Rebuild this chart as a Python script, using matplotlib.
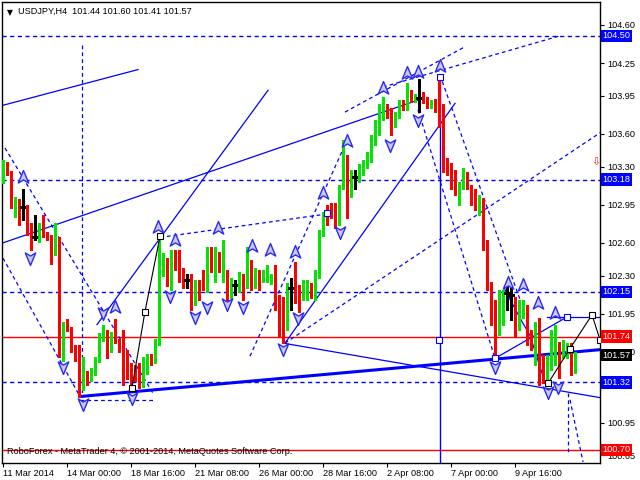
import matplotlib
matplotlib.use('Agg')
import matplotlib.pyplot as plt
from matplotlib.path import Path
import matplotlib.transforms as mtrans

plt.rcParams['font.family'] = ['Liberation Sans', 'DejaVu Sans']

# H4 candles, USDJPY 11 Mar - 10 Apr 2014
opens = [103.18, 103.32, 103.24, 102.97, 102.98, 102.93, 102.93, 102.76, 102.65, 102.63,
         102.76, 102.68, 102.65, 102.51, 102.63, 101.80, 101.86, 101.81, 101.64, 101.64,
         101.34, 101.39, 101.37, 101.41, 101.53, 101.75, 101.77, 101.62, 101.75, 101.70,
         101.75, 101.45, 101.45, 101.44, 101.43, 101.30, 101.43, 101.55, 101.52, 101.68,
         102.37, 102.42, 102.26, 102.42, 102.40, 102.31, 102.26, 102.26, 102.08, 102.21,
         102.31, 102.26, 102.47, 102.29, 102.46, 102.29, 102.29, 102.14, 102.21, 102.19,
         102.28, 102.23, 102.43, 102.24, 102.32, 102.28, 102.29, 102.26, 102.35, 102.08,
         102.06, 101.85, 102.19, 102.20, 102.16, 102.14, 102.17, 102.20, 102.17, 102.31,
         102.69, 102.90, 102.93, 102.93, 102.81, 103.13, 103.33, 103.07, 103.20, 103.21,
         103.27, 103.33, 103.38, 103.53, 103.62, 103.76, 103.82, 103.79, 103.68, 103.77,
         103.87, 103.85, 103.98, 103.92, 103.93, 103.94, 103.90, 103.87, 103.89, 103.87,
         103.82, 103.32, 103.30, 103.22, 103.02, 103.11, 103.20, 103.09, 103.04, 102.90,
         102.98, 102.58, 102.19, 101.94, 101.78, 101.89, 102.14, 102.12, 102.06, 101.86,
         101.94, 101.98, 101.75, 101.52, 101.87, 101.52, 101.37, 101.48, 101.55, 101.66,
         101.60, 101.57, 101.63, 101.44]
highs = [103.36, 103.34, 103.26, 103.02, 103.00, 103.09, 102.95, 102.78, 102.86, 102.78,
         102.86, 102.70, 102.67, 102.78, 102.65, 101.87, 101.90, 101.83, 101.66, 101.66,
         101.55, 101.42, 101.45, 101.55, 101.77, 101.85, 101.80, 101.78, 101.90, 101.72,
         101.80, 101.62, 101.50, 101.48, 101.50, 101.55, 101.58, 101.58, 101.72, 102.65,
         102.51, 102.46, 102.53, 102.53, 102.53, 102.37, 102.31, 102.31, 102.26, 102.26,
         102.35, 102.56, 102.56, 102.56, 102.52, 102.63, 102.35, 102.28, 102.26, 102.33,
         102.31, 102.56, 102.44, 102.37, 102.35, 102.35, 102.40, 102.31, 102.40, 102.12,
         102.10, 102.23, 102.28, 102.42, 102.21, 102.26, 102.26, 102.23, 102.35, 102.72,
         102.88, 102.95, 102.97, 102.97, 103.13, 103.54, 103.41, 103.27, 103.27, 103.32,
         103.36, 103.43, 103.59, 103.73, 103.87, 103.94, 103.87, 103.84, 103.80, 103.91,
         103.91, 104.07, 104.00, 103.97, 104.10, 103.98, 103.94, 103.91, 103.92, 104.14,
         103.87, 103.38, 103.33, 103.27, 103.16, 103.29, 103.25, 103.13, 103.09, 103.04,
         103.01, 102.63, 102.24, 102.08, 102.17, 102.17, 102.21, 102.19, 102.10, 102.08,
         102.08, 102.03, 101.80, 101.87, 101.91, 101.57, 101.57, 101.80, 101.85, 101.69,
         101.71, 101.68, 101.68, 101.60]
lows = [103.15, 103.22, 102.92, 102.84, 102.76, 102.81, 102.67, 102.53, 102.63, 102.61,
        102.65, 102.63, 102.41, 102.49, 101.55, 101.52, 101.79, 101.60, 101.52, 101.19,
        101.25, 101.30, 101.33, 101.39, 101.51, 101.70, 101.54, 101.60, 101.68, 101.60,
        101.30, 101.35, 101.29, 101.33, 101.27, 101.28, 101.40, 101.48, 101.50, 101.66,
        102.30, 102.20, 102.17, 102.35, 102.24, 102.19, 102.19, 101.98, 102.03, 102.08,
        102.17, 102.15, 102.33, 102.24, 102.33, 102.24, 102.08, 102.09, 102.12, 102.15,
        102.08, 102.19, 102.17, 102.19, 102.17, 102.24, 102.24, 102.22, 101.98, 101.74,
        101.68, 101.80, 101.98, 102.05, 101.97, 102.08, 102.08, 102.09, 102.08, 102.28,
        102.66, 102.76, 102.83, 102.74, 102.76, 103.09, 102.83, 103.02, 103.09, 103.16,
        103.22, 103.29, 103.34, 103.50, 103.59, 103.73, 103.75, 103.59, 103.66, 103.75,
        103.82, 103.82, 103.89, 103.89, 103.80, 103.88, 103.84, 103.84, 103.80, 103.66,
        103.25, 103.22, 103.09, 103.04, 102.95, 103.09, 103.09, 102.95, 102.90, 102.86,
        102.53, 102.17, 101.85, 101.54, 101.75, 101.85, 101.98, 101.89, 101.74, 101.80,
        101.91, 101.66, 101.62, 101.48, 101.30, 101.31, 101.30, 101.43, 101.48, 101.36,
        101.54, 101.54, 101.39, 101.41]
closes = [103.33, 103.24, 102.98, 102.99, 102.94, 102.93, 102.76, 102.65, 102.65, 102.76,
          102.69, 102.65, 102.51, 102.64, 101.82, 101.83, 101.81, 101.64, 101.62, 101.35,
          101.39, 101.33, 101.41, 101.53, 101.75, 101.77, 101.62, 101.75, 101.70, 101.69,
          101.39, 101.39, 101.39, 101.41, 101.30, 101.45, 101.55, 101.52, 101.68, 102.38,
          102.42, 102.26, 102.42, 102.39, 102.31, 102.26, 102.26, 102.08, 102.21, 102.17,
          102.23, 102.46, 102.38, 102.46, 102.38, 102.52, 102.12, 102.23, 102.21, 102.28,
          102.21, 102.42, 102.24, 102.33, 102.26, 102.32, 102.35, 102.29, 102.08, 101.87,
          101.74, 102.20, 102.19, 102.16, 102.13, 102.21, 102.23, 102.15, 102.31, 102.69,
          102.84, 102.81, 102.87, 102.78, 103.13, 103.32, 102.88, 103.22, 103.20, 103.27,
          103.33, 103.38, 103.54, 103.66, 103.82, 103.84, 103.77, 103.62, 103.76, 103.87,
          103.85, 103.98, 103.93, 103.94, 103.93, 103.91, 103.87, 103.89, 103.84, 103.82,
          103.32, 103.29, 103.18, 103.11, 103.11, 103.22, 103.09, 103.01, 102.95, 102.99,
          102.58, 102.21, 101.91, 101.78, 101.87, 102.06, 102.14, 102.12, 101.86, 101.98,
          101.98, 101.73, 101.68, 101.83, 101.31, 101.46, 101.52, 101.63, 101.66, 101.63,
          101.65, 101.62, 101.41, 101.57]

date_bars = [0, 16, 32, 48, 64, 80, 96, 112, 128]
date_labels = ['11 Mar 2014', '14 Mar 00:00', '18 Mar 16:00', '21 Mar 08:00', '26 Mar 00:00',
               '28 Mar 16:00', '2 Apr 08:00', '7 Apr 00:00', '9 Apr 16:00']
price_ticks = [104.60, 104.25, 103.95, 103.60, 103.30, 102.95, 102.60, 102.30, 101.95,
               101.60, 101.30, 100.95, 100.65]
hidden_ticks = [101.30]   # fully covered by the 101.32 level label

blue_levels = [104.50, 103.18, 102.15, 101.32]
red_levels = [101.74, 100.70]
last_price = 101.57

# analysis objects: (bar, price) end points
solid_lines = [[(-0.25, 103.86), (33.75, 104.19)],
               [(0, 102.60), (103.75, 103.91)],
               [(23.5, 101.85), (66.25, 104.00)],
               [(70.5, 101.68), (113, 103.88)],
               [(70, 101.68), (149.25, 101.18)],
               [(123, 101.54), (141, 101.92)],
               [(136, 101.92), (149.25, 101.92)],
               [(125.5, 102.17), (129.25, 101.91), (131.75, 101.75), (135.5, 101.32)]]
thick_line = [(19.25, 101.19), (149.25, 101.62)]
dashed_lines = [[(0.5, 103.47), (37.5, 101.22)],
                [(0, 102.46), (19.25, 101.19)],
                [(19.25, 101.16), (37.5, 101.16)],
                [(39.25, 102.65), (80, 102.86)],
                [(61.75, 101.56), (85.5, 103.50)],
                [(85.5, 103.80), (115, 104.39)],
                [(95, 104.03), (139.25, 104.50)],
                [(70.5, 101.68), (149.25, 103.61)],
                [(103.75, 103.82), (123, 101.54)],
                [(109.25, 104.14), (129.25, 102.08)],
                [(141.25, 101.22), (141.25, 100.65)],
                [(141.75, 101.16), (145, 100.59)],
                [(19.75, 104.42), (19.75, 101.19)]]
black_paths = [[(32.25, 101.27), (35.5, 101.97), (39.25, 102.66)],
               [(136.25, 101.31), (141.75, 101.63), (147.25, 101.94), (149.25, 101.71)]]
blue_squares = [(109.25, 104.12), (109, 101.71), (123, 101.54), (141, 101.92), (81, 102.87)]
vline_bar = 109.25

up_bars = [5, 28, 38.75, 43, 53.75, 62.25, 66.75, 73, 80, 86, 95, 101, 103.75, 109.25,
           126.25, 130, 133.75, 138]
up_prices = [103.20, 102.01, 102.75, 102.63, 102.74, 102.57, 102.53, 102.52, 103.06, 103.53,
             104.02, 104.16, 104.17, 104.22, 102.23, 102.21, 102.05, 101.96]
down_bars = [6.75, 15, 20, 25, 32.25, 41.75, 48, 51, 56, 60, 70, 73.75, 84.25, 96.75,
             103.75, 123, 136.25, 138.75]
down_prices = [102.46, 101.46, 101.12, 101.96, 101.18, 102.11, 101.92, 102.01, 102.04, 102.01,
               101.63, 101.91, 102.70, 103.50, 103.73, 101.46, 101.23, 101.28]

fig = plt.figure(figsize=(6.4, 4.8), dpi=100)
ax = fig.add_axes([2 / 640, 17 / 480, 598 / 640, 461 / 480])
ax.set_xlim(-0.25, 149.25)
ax.set_ylim(100.58, 104.81)

blue = '#0000ff'
for lv in blue_levels:
    ax.axhline(lv, color=blue, lw=1, ls=(0, (3, 2.5)), zorder=1)
for lv in red_levels:
    ax.axhline(lv, color='#ff0000', lw=1, zorder=1)

for seg in solid_lines:
    ax.plot([p[0] for p in seg], [p[1] for p in seg], color=blue, lw=0.9, zorder=2)
ax.plot([p[0] for p in thick_line], [p[1] for p in thick_line], color=blue, lw=2.2, zorder=2)
for seg in dashed_lines:
    ax.plot([p[0] for p in seg], [p[1] for p in seg], color=blue, lw=0.9,
            ls=(0, (3, 2.5)), zorder=2)
ax.plot([vline_bar, vline_bar], [104.14, 100.58], color=blue, lw=1, zorder=2)
for seg in black_paths:
    ax.plot([p[0] for p in seg], [p[1] for p in seg], color='black', lw=0.8, zorder=4,
            marker='s', ms=4, mfc='white', mec='black', mew=0.8)
ax.plot([p[0] for p in blue_squares], [p[1] for p in blue_squares], ls='none', marker='s',
        ms=4, mfc='white', mec=blue, mew=0.8, zorder=4)

# candles
for i, (o, h, l, c) in enumerate(zip(opens, highs, lows, closes)):
    if c > o:
        col = '#00e600'
    elif c < o:
        col = '#ff0000'
    else:
        col = 'black'
    ax.plot([i, i], [l, h], color=col, lw=1, zorder=3, solid_capstyle='butt',
            antialiased=False)
    if c == o:
        ax.plot([i - 0.4, i + 0.4], [o, c], color=col, lw=1, zorder=3, antialiased=False)
    else:
        ax.bar(i, c - o, bottom=o, width=0.75, color=col, lw=0, zorder=3, antialiased=False)

# fractal arrows
arrow_up = Path([(0, 1), (0.75, -0.8), (0, -0.35), (-0.75, -0.8), (0, 1)],
                [Path.MOVETO, Path.LINETO, Path.LINETO, Path.LINETO, Path.CLOSEPOLY])
arrow_dn = Path([(0, -1), (0.75, 0.8), (0, 0.35), (-0.75, 0.8), (0, -1)],
                [Path.MOVETO, Path.LINETO, Path.LINETO, Path.LINETO, Path.CLOSEPOLY])
ax.plot(up_bars, up_prices, ls='none', marker=arrow_up, ms=10, mfc='#c8c8ff', mec='#2a2af0',
        mew=1, zorder=5)
ax.plot(down_bars, down_prices, ls='none', marker=arrow_dn, ms=10, mfc='#c8c8ff',
        mec='#2a2af0', mew=1, zorder=5)

# axes styling
for s in ax.spines.values():
    s.set_color('black')
    s.set_linewidth(1)
ax.yaxis.tick_right()
ax.set_yticks(price_ticks)
ax.set_yticklabels(['' if v in hidden_ticks else '%.2f' % v for v in price_ticks])
ax.set_xticks(date_bars)
ax.set_xticklabels(date_labels, ha='left')
ax.tick_params(axis='both', labelsize=6.6, length=3, width=0.8, colors='black', pad=2)
ax.tick_params(axis='x', pad=1)
for lab in ax.get_xticklabels():
    lab.set_horizontalalignment('left')

tr = mtrans.blended_transform_factory(ax.transAxes, ax.transData)
for lv in blue_levels:
    ax.text(1.004, lv, '%.2f' % lv, transform=tr, color='white', fontsize=6.6, va='center',
            ha='left', clip_on=False, zorder=10,
            bbox=dict(boxstyle='square,pad=0.18', fc=blue, ec='none'))
for lv in red_levels:
    ax.text(1.004, lv, '%.2f' % lv, transform=tr, color='white', fontsize=6.6, va='center',
            ha='left', clip_on=False, zorder=10,
            bbox=dict(boxstyle='square,pad=0.18', fc='#ff0000', ec='none'))
ax.text(1.004, last_price, '%.2f' % last_price, transform=tr, color='white', fontsize=6.6,
        va='center', ha='left', clip_on=False, zorder=10,
        bbox=dict(boxstyle='square,pad=0.18', fc='black', ec='none'))

ax.text(148.2, 103.34, '\u21e9', color='#ff2020', fontsize=8, ha='center', va='center',
        family=['DejaVu Sans'], zorder=6)

ax.text(0.008, 0.988, '\u25bc', transform=ax.transAxes, fontsize=5.5, va='top', ha='left',
        family=['DejaVu Sans'])
ax.text(0.027, 0.99, 'USDJPY,H4  %.2f %.2f %.2f %.2f' % (opens[-1], highs[-1], lows[-1], closes[-1]),
        transform=ax.transAxes, fontsize=6.6, va='top', ha='left', color='black')
ax.text(0.008, 0.024, 'RoboForex - MetaTrader 4, \u00a9 2001-2014, MetaQuotes Software Corp.',
        transform=ax.transAxes, fontsize=6.6, va='center', ha='left', color='black', zorder=8)

fig.savefig('out.png', dpi=100, facecolor='white')
